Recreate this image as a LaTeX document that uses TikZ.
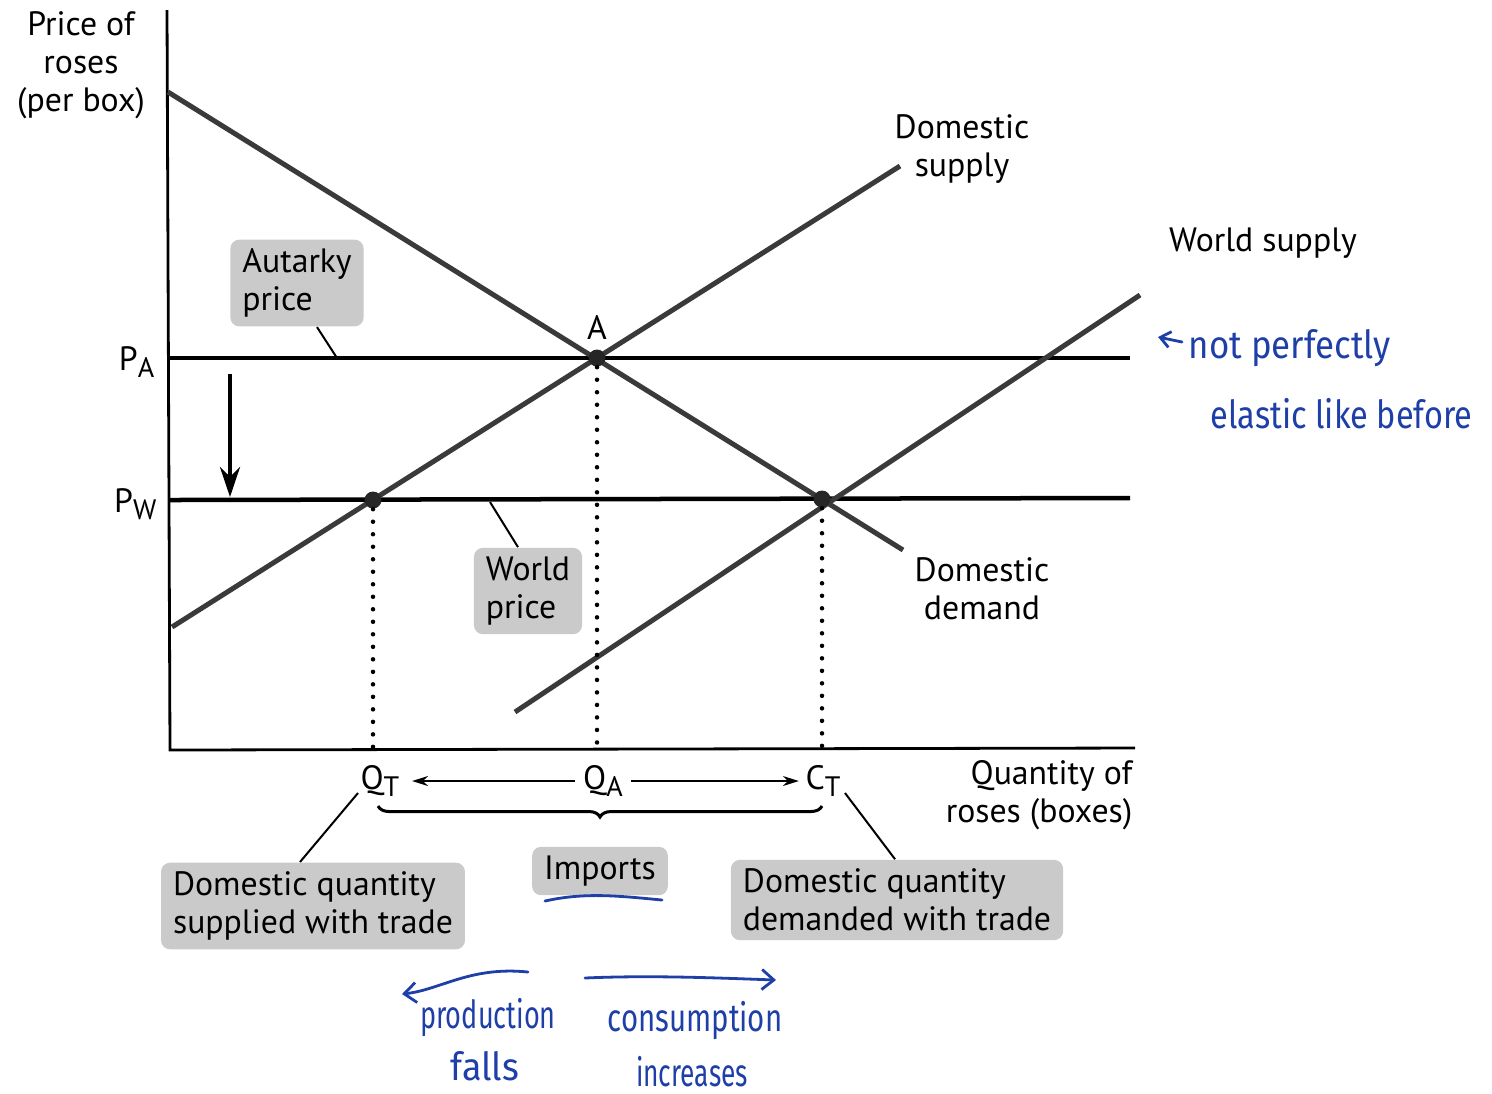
\documentclass[tikz,border=0pt]{standalone}
\usepackage{fontspec}
\setmainfont{PT Sans}
\newfontfamily\handfont{Fira Sans}
\usetikzlibrary{arrows.meta,decorations.pathreplacing,calc}
\newcommand\lowsub[1]{\raisebox{-0.45ex}{\footnotesize #1}}
\newcommand\squeeze[2]{\scalebox{#1}[1]{#2}}
\definecolor{ink}{HTML}{1E3FA8}
\definecolor{curvegray}{HTML}{3A3A3A}
\definecolor{boxgray}{HTML}{CACACA}
\begin{document}
\begin{tikzpicture}[x=0.01cm,y=-0.01cm,
  every node/.style={font=\fontsize{9.6}{10.8}\selectfont, inner sep=0pt},
  axis/.style={line width=0.028cm, black},
  curve/.style={line width=0.05cm, curvegray},
  level/.style={line width=0.045cm, black},
  guide/.style={line width=0.045cm, dash pattern=on 0pt off 0.125cm, line cap=round},
  pointer/.style={line width=0.02cm, black},
  dot/.style={circle, fill=black!85, minimum size=0.17cm},
  graybox/.style={fill=boxgray, rounded corners=0.09cm, inner xsep=0.12cm, inner ysep=0.09cm, align=left},
  qarrow/.style={line width=0.02cm, -{Stealth[length=0.16cm,width=0.1cm]}},
  hand/.style={ink, font=\handfont\fontsize{11}{13}\selectfont},
  handline/.style={ink, line width=0.028cm, line cap=round}]
\useasboundingbox (0,0) rectangle (1492,1093);

% axes
\coordinate (ytop) at (167,10);
\coordinate (O) at (170,750);
\coordinate (xend) at (1135,748);
\draw[axis] (ytop) -- (O) -- (xend);

% price levels
\coordinate (pa0) at (170,358);
\coordinate (pa1) at (1130,358);
\coordinate (pw0) at (170,500);
\coordinate (pw1) at (1130,498);
\draw[level] (pa0) -- (pa1);
\draw[level] (pw0) -- (pw1);

% demand, domestic supply and world supply
\coordinate (d0) at (168,92);
\coordinate (d1) at (903,550);
\coordinate (s0) at (172,627);
\coordinate (s1) at (900,166);
\coordinate (w0) at (515,712);
\coordinate (w1) at (1140,295);
\draw[curve] (d0) -- (d1);
\draw[curve] (s0) -- (s1);
\draw[curve] (w0) -- (w1);

% equilibrium points
\node[dot] (A) at (597,358) {};
\node[dot] (QTdot) at (373,500) {};
\node[dot] (CTdot) at (822,499) {};
\node (Alab) at (597,327) {A};

% dotted drop lines
\coordinate (qtb) at (373,750);
\coordinate (qab) at (597,750);
\coordinate (ctb) at (822,750);
\draw[guide] (QTdot) -- (qtb);
\draw[guide] (A) -- (qab);
\draw[guide] (CTdot) -- (ctb);

% price fall arrow
\coordinate (fall0) at (230,374);
\coordinate (fall1) at (230,497);
\draw[line width=0.045cm, -{Stealth[length=0.3cm,width=0.2cm]}] (fall0) -- (fall1);

% axis titles and price labels
\node[align=center] (ytitle) at (81,65) {Price of\\roses\\(per box)};
\node[anchor=base east] (PA) at (155,370) {P\lowsub{A}};
\node[anchor=base east] (PW) at (157,512) {P\lowsub{W}};
\node[align=right, anchor=east] (xtitle) at (1133,795) {Quantity of\\roses (boxes)};

% curve labels
\node[align=center] (dslab) at (962,149) {Domestic\\supply};
\node (wslab) at (1263,243) {World supply};
\node[align=center] (ddlab) at (982,589) {Domestic\\demand};

% quantity labels
\node (QT) at (380,781) {Q\lowsub{T}};
\node (QA) at (603,781) {Q\lowsub{A}};
\node (CT) at (823,781) {C\lowsub{T}};
\draw[qarrow] ($(QA.west)+(-8,0)$) -- ($(QT.east)+(12,0)$);
\draw[qarrow] ($(QA.east)+(8,0)$) -- ($(CT.west)+(-6,0)$);

% imports brace
\coordinate (br0) at (378,806);
\coordinate (br1) at (822,806);
\draw[line width=0.03cm, decorate, decoration={brace, mirror, amplitude=0.11cm}] (br0) -- (br1);

% gray callouts
\node[graybox] (autarky) at (297,283) {Autarky\\price};
\node[graybox] (world) at (528,591) {World\\price};
\node[graybox] (supplied) at (313,906) {Domestic quantity\\supplied with trade};
\node[graybox] (imports) at (600,871) {Imports};
\node[graybox] (demanded) at (897,900) {Domestic quantity\\demanded with trade};

\coordinate (aut1) at (337,358);
\coordinate (wor1) at (490,502);
\coordinate (sup1) at (358,793);
\coordinate (dem1) at (845,793);
\draw[pointer] ($(autarky.south)+(20,0)$) -- (aut1);
\draw[pointer] ($(world.north)+(-10,0)$) -- (wor1);
\draw[pointer] ($(supplied.north)+(-13,0)$) -- (sup1);
\draw[pointer] ($(demanded.north)+(-2,0)$) -- (dem1);

% pen notes
\coordinate (imu0) at (545,901);
\coordinate (imu1) at (662,900);
\draw[handline] (imu0) .. controls (585,892) and (620,896) .. (imu1);

\node[hand, anchor=west] (note1) at (1188,348) {\squeeze{0.9}{not perfectly}};
\node[hand, anchor=west] (note2) at (1210,414) {\squeeze{0.84}{elastic like before}};
\coordinate (nar1) at (1182,342);
\coordinate (nar0) at (1158,337);
\draw[handline, -{Straight Barb[length=0.1cm,width=0.16cm]}] (nar1) -- (nar0);

\coordinate (pf0) at (528,972);
\coordinate (pf1) at (402,994);
\draw[handline, -{Straight Barb[length=0.12cm,width=0.2cm]}] (pf0) .. controls (470,966) and (440,990) .. (pf1);
\node[hand] (prod) at (488,1018) {\squeeze{0.7}{production}};
\node[hand] (falls) at (485,1066) {\squeeze{0.93}{falls}};

\coordinate (ci0) at (585,978);
\coordinate (ci1) at (776,980);
\draw[handline, -{Straight Barb[length=0.12cm,width=0.2cm]}] (ci0) .. controls (650,975) and (720,978) .. (ci1);
\node[hand] (cons) at (695,1020) {\squeeze{0.76}{consumption}};
\node[hand] (incr) at (692,1072) {\squeeze{0.68}{increases}};
\end{tikzpicture}
\end{document}
